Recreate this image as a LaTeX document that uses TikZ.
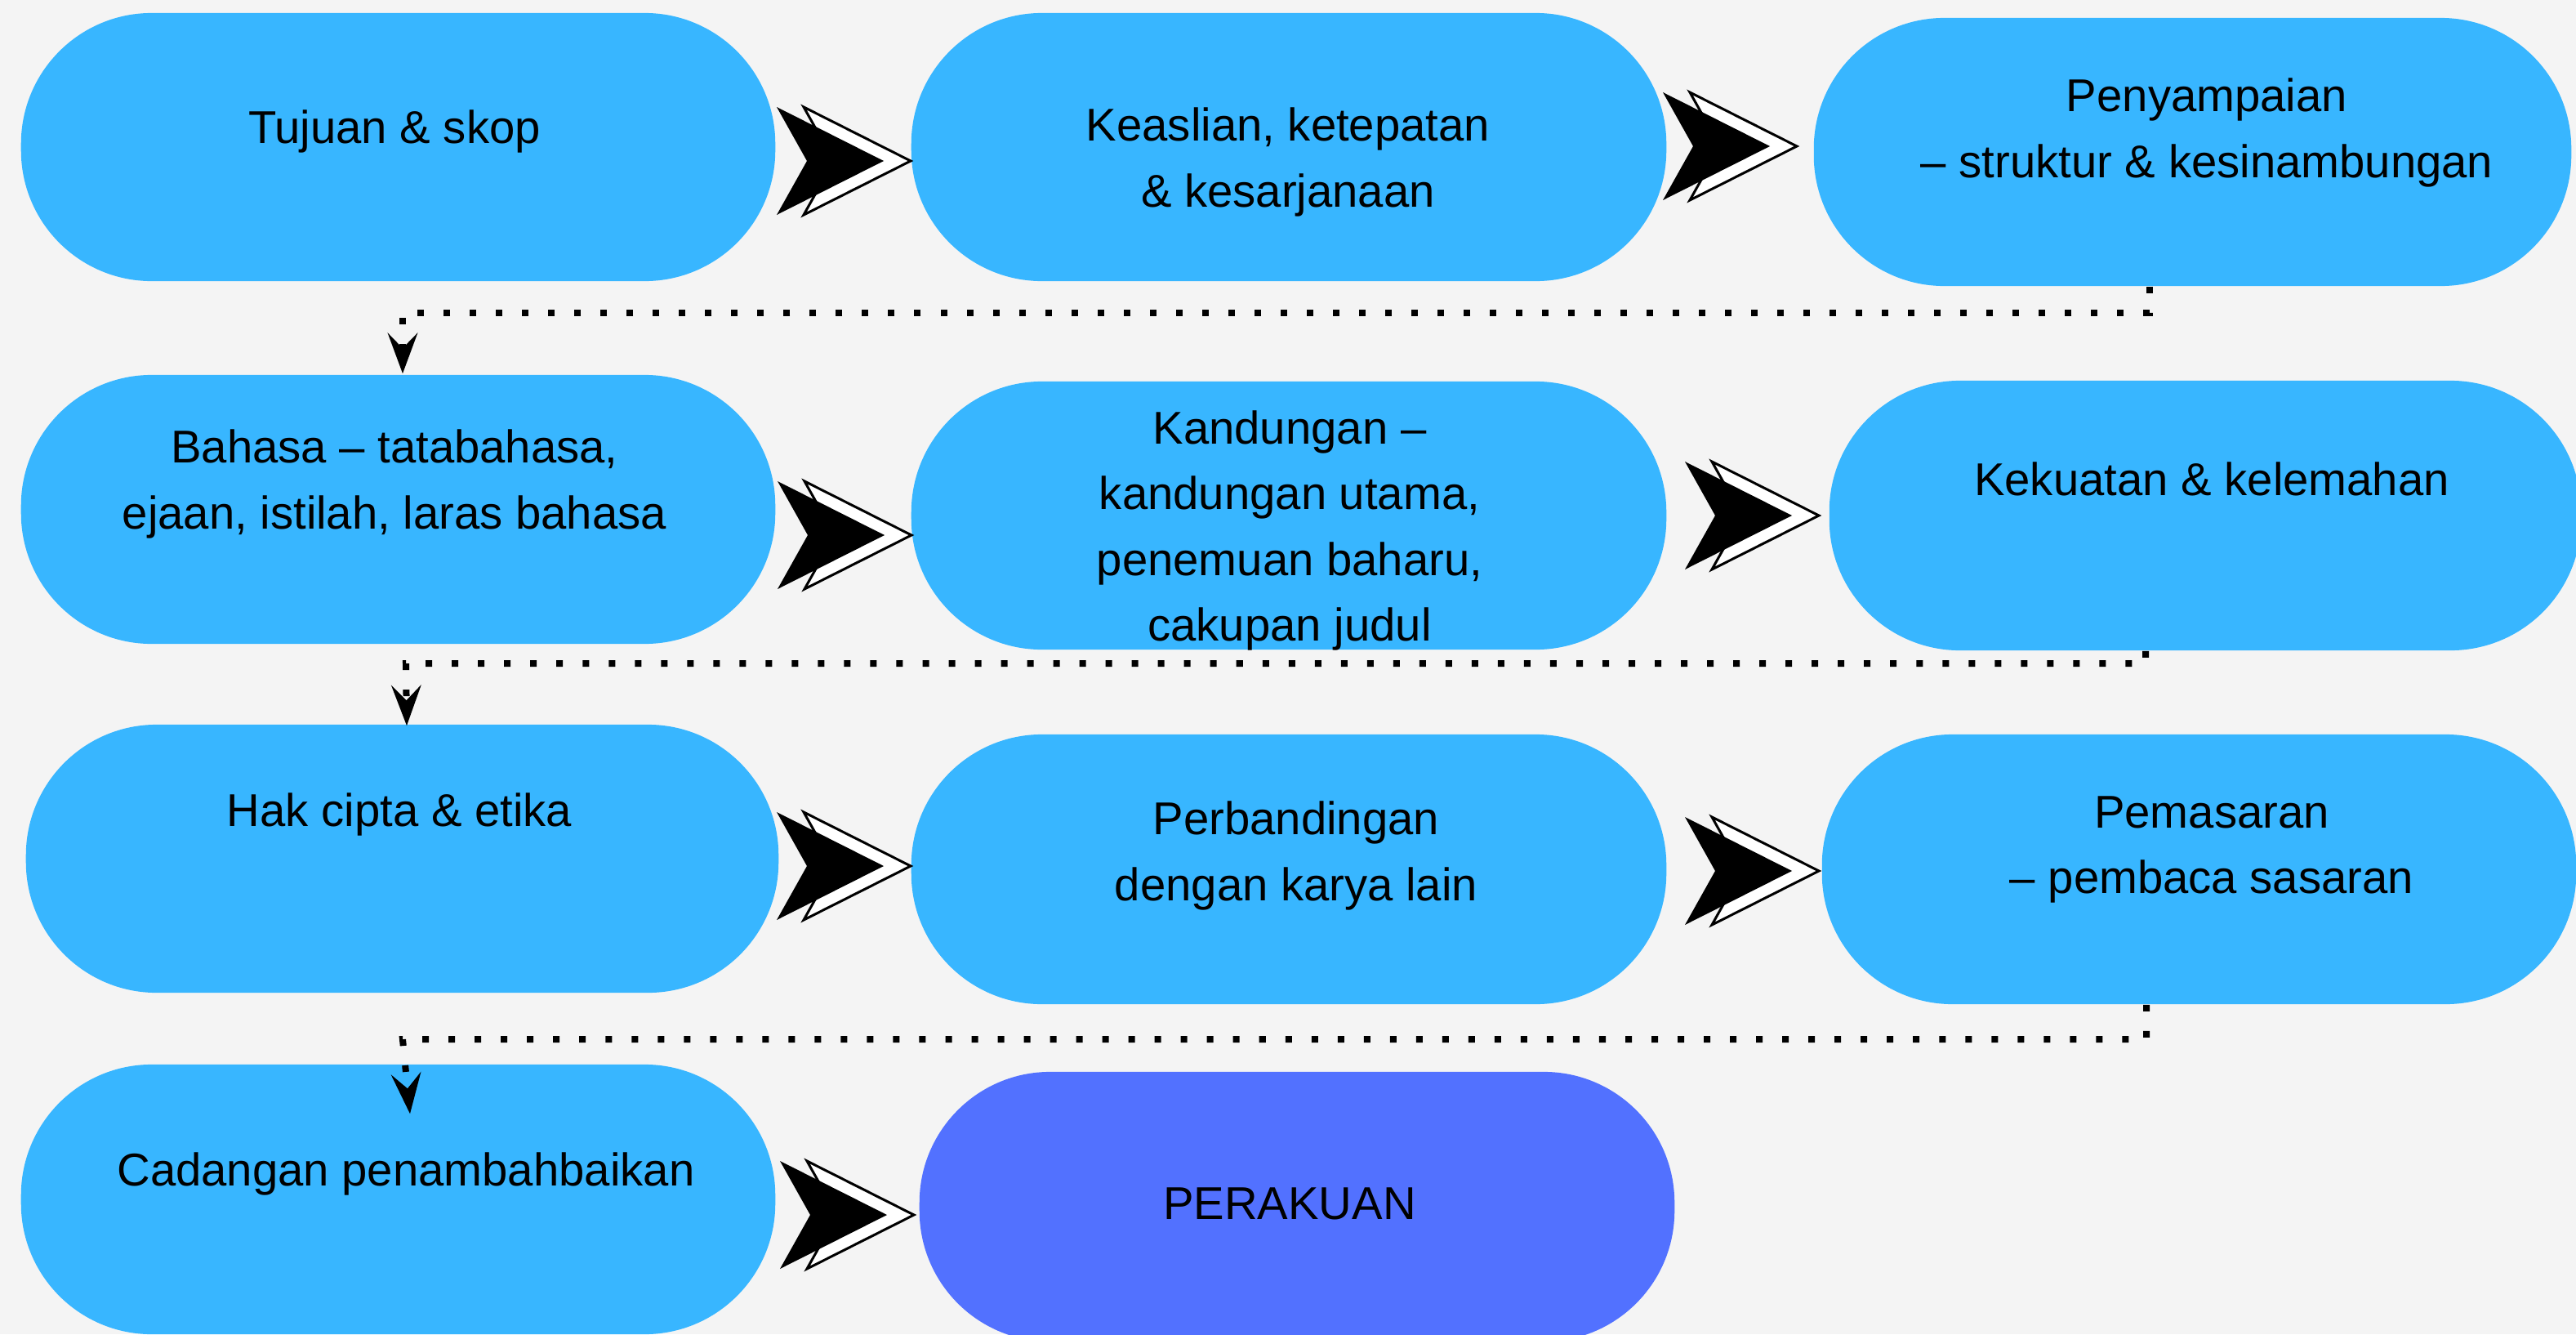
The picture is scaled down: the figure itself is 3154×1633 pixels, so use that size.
\documentclass[tikz,border=0pt]{standalone}
\usepackage{fontspec}
\setmainfont{Liberation Sans}
\usetikzlibrary{arrows.meta,calc}
\definecolor{pillblue}{HTML}{38B6FF}
\definecolor{pillviolet}{HTML}{5271FF}
\definecolor{bgcol}{HTML}{F4F4F4}
\newcommand\lnst{\rule[-0.3em]{0pt}{1.016em}}
\begin{document}
\begin{tikzpicture}[x=0.01cm,y=-0.01cm,
  pill/.style={rectangle, rounded corners=1.6cm, inner sep=0pt, draw=none},
  txt/.style={align=center, inner sep=0pt, font=\fontsize{16}{22.8}\selectfont},
  dotline/.style={line width=0.08cm, dash pattern=on 0.08cm off 0.24cm,
    -{Stealth[length=0.5cm,width=0.37cm,inset=0.19cm,line width=0pt]}},
  chev/.pic={
    \filldraw[fill=white, draw=black, line width=0.03cm, line join=miter]
      (33,-66) -- (164,0) -- (33,66) -- (70,0) -- cycle;
    \fill[black] (0,-66) -- (131,0) -- (0,66) -- (37,0) -- cycle;
  }]
\useasboundingbox (0,0) rectangle (3154,1633);
\clip (0,0) rectangle (3154,1633);
\fill[bgcol] (0,0) rectangle (3154,1633);

% boxes
\node[pill, fill=pillblue, minimum width=9.23cm, minimum height=3.28cm] (b1) at (487.5,180) {};
\node[pill, fill=pillblue, minimum width=9.24cm, minimum height=3.28cm] (b2) at (1578,180) {};
\node[pill, fill=pillblue, minimum width=9.27cm, minimum height=3.28cm] (b3) at (2684.5,186) {};
\node[pill, fill=pillblue, minimum width=9.23cm, minimum height=3.29cm] (b4) at (487.5,623.5) {};
\node[pill, fill=pillblue, minimum width=9.24cm, minimum height=3.28cm] (b5) at (1578,631) {};
\node[pill, fill=pillblue, minimum width=9.20cm, minimum height=3.30cm] (b6) at (2700,631) {};
\node[pill, fill=pillblue, minimum width=9.21cm, minimum height=3.28cm] (b7) at (492.5,1051) {};
\node[pill, fill=pillblue, minimum width=9.24cm, minimum height=3.30cm] (b8) at (1578,1064) {};
\node[pill, fill=pillblue, minimum width=9.23cm, minimum height=3.30cm] (b9) at (2692.5,1064) {};
\node[pill, fill=pillblue, minimum width=9.23cm, minimum height=3.30cm] (b10) at (487.5,1468) {};
\node[pill, fill=pillviolet, minimum width=9.24cm, minimum height=3.30cm] (b11) at (1588,1477) {};

% dotted connectors between rows
\draw[dotline] ($(b3.south)+(-52.5,0)$) |- ($(b4.north)+(5.5,-75)$) -- ($(b4.north)+(5.5,-1)$);
\draw[dotline] ($(b6.south)+(-73,0)$) |- ($(b7.north)+(4.5,-74)$) -- ($(b7.north)+(5.5,2)$);
\draw[dotline] ($(b9.south)+(-64.5,0)$) |- ($(b10.north)+(5.5,-30)$) -- ($(b10.north)+(14.5,61)$);

% chevron arrows between boxes
\pic at (951,197) {chev};
\pic at (2036,179) {chev};
\pic at (952,655) {chev};
\pic at (2063,631) {chev};
\pic at (951,1060) {chev};
\pic at (2063,1066) {chev};
\pic at (955,1487) {chev};

% texts
\node[txt] (t1) at (483,164) {\lnst Tujuan \& skop};
\node[txt] (t2) at (1577,201) {\lnst Keaslian, ketepatan\\\lnst\& kesarjanaan};
\node[txt] (t3) at (2702,165) {\lnst Penyampaian\\\lnst – struktur \& kesinambungan};
\node[txt] (t4) at (483,595) {\lnst Bahasa – tatabahasa,\\\lnst ejaan, istilah, laras bahasa};
\node[txt] (t5) at (1579,652) {\lnst Kandungan –\\\lnst kandungan utama,\\\lnst penemuan baharu,\\\lnst cakupan judul};
\node[txt] (t6) at (2708,595) {\lnst Kekuatan \& kelemahan};
\node[txt] (t7) at (489,1000) {\lnst Hak cipta \& etika};
\node[txt] (t8) at (1587,1050) {\lnst Perbandingan\\\lnst dengan karya lain};
\node[txt] (t9) at (2708,1042) {\lnst Pemasaran\\\lnst – pembaca sasaran};
\node[txt] (t10) at (497,1440) {\lnst Cadangan penambahbaikan};
\node[txt] (t11) at (1579,1481) {\lnst PERAKUAN};
\end{tikzpicture}
\end{document}
